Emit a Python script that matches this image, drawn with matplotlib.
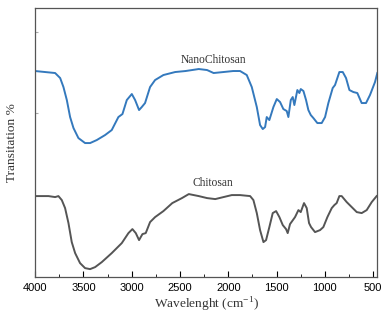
import numpy as np
import matplotlib.pyplot as plt
from matplotlib.ticker import MultipleLocator

# FTIR spectra (arbitrary transmittance units)
nano_wn = [4000, 3897, 3793, 3741, 3707, 3672, 3638, 3603, 3552, 3483, 3431, 3362,
           3276, 3207, 3138, 3096, 3051, 2999, 2965, 2924, 2896, 2862, 2810, 2758,
           2672, 2550, 2443, 2306, 2220, 2152, 2050, 1950, 1878, 1809, 1757, 1705,
           1671, 1643, 1619, 1602, 1575, 1533, 1498, 1464, 1430, 1395, 1378, 1353,
           1333, 1316, 1285, 1264, 1250, 1222, 1195, 1171, 1146, 1119, 1078, 1033,
           998, 964, 919, 895, 850, 815, 781, 746, 705, 664, 619, 574, 533, 481, 457]
nano_t = [206, 205, 204, 199, 190, 177, 160, 149, 139, 134, 134, 137,
          142, 147, 160, 163, 177, 183, 177, 167, 170, 174, 190, 197,
          202, 205, 206, 208, 207, 204, 205, 206, 206, 202, 190, 170,
          152, 148, 150, 160, 157, 170, 178, 175, 168, 166, 160, 177,
          180, 172, 187, 184, 188, 186, 177, 167, 162, 159, 154, 154,
          160, 174, 189, 192, 205, 205, 199, 187, 185, 184, 174, 174, 182, 195, 204]

chito_wn = [4000, 3862, 3793, 3759, 3724, 3690, 3655, 3621, 3586, 3535, 3483, 3431,
            3379, 3310, 3207, 3103, 3034, 2993, 2958, 2924, 2889, 2855, 2810, 2758,
            2672, 2580, 2480, 2409, 2306, 2220, 2135, 2050, 1964, 1878, 1774, 1740,
            1705, 1671, 1636, 1609, 1575, 1540, 1505, 1471, 1436, 1402, 1385, 1361,
            1309, 1274, 1250, 1216, 1188, 1164, 1143, 1102, 1050, 1016, 974, 929,
            902, 878, 850, 826, 774, 722, 670, 619, 567, 515, 464]
chito_t = [81, 81, 80, 81, 77, 69, 54, 35, 24, 14, 9, 8,
           10, 15, 24, 34, 44, 48, 44, 37, 43, 44, 55, 60,
           66, 74, 79, 83, 81, 79, 78, 80, 82, 82, 81, 77,
           64, 47, 35, 37, 50, 64, 66, 60, 52, 48, 44, 53,
           60, 67, 65, 74, 69, 54, 50, 45, 47, 50, 60, 69,
           72, 74, 81, 81, 75, 70, 65, 64, 67, 75, 81]

plt.rcParams['font.family'] = ['Liberation Sans', 'DejaVu Sans']

fig = plt.figure(figsize=(3.82, 3.2), dpi=100)
ax = fig.add_axes([0.092, 0.134, 0.895, 0.841])

ax.plot(nano_wn, nano_t, color='#3479bd', lw=1.4, solid_joinstyle='round')
ax.plot(chito_wn, chito_t, color='#555555', lw=1.4, solid_joinstyle='round')

ax.set_xlim(4000, 460)
ax.set_ylim(0, 269)

ax.xaxis.set_major_locator(MultipleLocator(500))
ax.xaxis.set_minor_locator(MultipleLocator(250))
ax.set_yticks([164, 245])
ax.set_yticklabels([])
ax.tick_params(axis='both', which='both', direction='in', top=False, right=False)
ax.tick_params(axis='x', which='major', length=4, labelsize=8, pad=4)
ax.tick_params(axis='x', which='minor', length=2)
ax.tick_params(axis='y', length=2, color='#aaaaaa')

for s in ax.spines.values():
    s.set_color('#555555')
    s.set_linewidth(0.9)

ax.text(2155, 217, 'NanoChitosan', ha='center', va='center',
        family='Liberation Serif', fontsize=8.3, color='#333333')
ax.text(2155, 94, 'Chitosan', ha='center', va='center',
        family='Liberation Serif', fontsize=8.3, color='#333333')

ax.set_xlabel('Wavelenght (cm$^{\\mathregular{-1}}$)', family='Liberation Serif',
              fontsize=9.6, labelpad=2, color='#333333')
ax.set_ylabel('Transitation %', family='Liberation Serif', fontsize=9.6,
              labelpad=9, color='#333333')

fig.savefig('out.png', dpi=100)
